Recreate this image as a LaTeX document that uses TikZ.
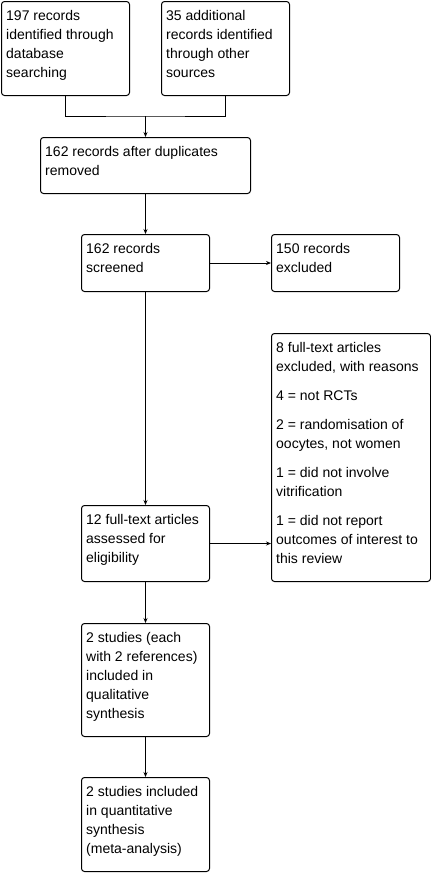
\documentclass[tikz,border=0pt]{standalone}
\usepackage{fontspec}
\setmainfont{Liberation Sans}
\usetikzlibrary{arrows.meta,calc}
\newcommand{\boxfont}{\fontsize{14}{19}\selectfont}
\tikzset{
  fbox/.style={draw, line width=1pt, rounded corners=3pt, anchor=north west, inner sep=0pt},
  ftext/.style={anchor=north west, inner sep=0pt, align=left, font=\boxfont},
  farrow/.style={-{Stealth[length=5pt,width=4pt]}, line width=1pt}
}
\begin{document}
\begin{tikzpicture}[x=1pt, y=-1pt]
    \useasboundingbox (0,0) rectangle (431,873);
    % boxes
    \node[fbox, minimum width=128, minimum height=94] (db) at (1,1) {};
    \node[fbox, minimum width=128, minimum height=94] (other) at (161,1) {};
    \node[fbox, minimum width=210, minimum height=56] (dedup) at (40,137) {};
    \node[fbox, minimum width=128, minimum height=57] (screen) at (81,234) {};
    \node[fbox, minimum width=128, minimum height=57] (excl) at (271,234) {};
    \node[fbox, minimum width=159, minimum height=248] (fullexcl) at (271,333) {};
    \node[fbox, minimum width=128, minimum height=76] (full) at (81,505) {};
    \node[fbox, minimum width=128, minimum height=113] (qual) at (81,623) {};
    \node[fbox, minimum width=128, minimum height=94] (quant) at (81,777) {};
    % texts
    \node[ftext] (db-t) at ($(db.north west)+(5,6)$) {\strut 197 records\\identified through\\database\\searching};
    \node[ftext] (other-t) at ($(other.north west)+(5,6)$) {\strut 35 additional\\records identified\\through other\\sources};
    \node[ftext] (dedup-t) at ($(dedup.north west)+(5,6)$) {\strut 162 records after duplicates\\removed};
    \node[ftext] (screen-t) at ($(screen.north west)+(5,6)$) {\strut 162 records\\screened};
    \node[ftext] (excl-t) at ($(excl.north west)+(5,6)$) {\strut 150 records\\excluded};
    \node[ftext] (fullexcl-t) at ($(fullexcl.north west)+(5,6)$) {\strut 8 full-text articles\\excluded, with reasons\\[10pt]
      4 = not RCTs\\[10pt]
      2 = randomisation of\\oocytes, not women\\[10pt]
      1 = did not involve\\vitrification\\[10pt]
      1 = did not report\\outcomes of interest to\\this review};
    \node[ftext] (full-t) at ($(full.north west)+(5,6)$) {\strut 12 full-text articles\\assessed for\\eligibility};
    \node[ftext] (qual-t) at ($(qual.north west)+(5,6)$) {\strut 2 studies (each\\with 2 references)\\included in\\qualitative\\synthesis};
    \node[ftext] (quant-t) at ($(quant.north west)+(5,6)$) {\strut 2 studies included\\in quantitative\\synthesis\\(meta-analysis)};
    % connectors
    \coordinate (join) at (dedup.north |- 0,116);
    \draw[line width=1pt] (db.south) |- (join) -| (other.south);
    \draw[farrow] (join) -- (dedup.north);
    \draw[farrow] (dedup.south) -- (screen.north);
    \draw[farrow] (screen.east) -- (excl.west);
    \draw[farrow] (screen.south) -- (full.north);
    \draw[farrow] (full.east) -- (full.east -| fullexcl.west);
    \draw[farrow] (full.south) -- (qual.north);
    \draw[farrow] (qual.south) -- (quant.north);
\end{tikzpicture}
\end{document}
